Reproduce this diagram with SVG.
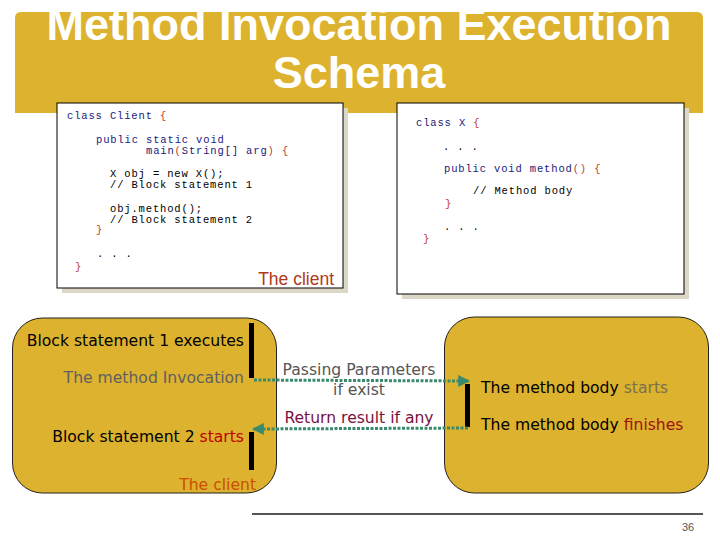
<svg xmlns="http://www.w3.org/2000/svg" width="720" height="540" viewBox="0 0 720 540">
<style>
.code{font-family:"Liberation Mono","Courier New",monospace;font-size:10.5px;letter-spacing:0.85px;fill:#000}
.kw{fill:#1a1a7a}
.br{fill:#c0392b}
.lbl{font-family:"DejaVu Sans",Verdana,sans-serif;font-size:15.6px}
.title{font-family:"Liberation Sans",Arial,sans-serif;font-weight:bold;font-size:45px;fill:#fff}
.node{fill:#DDB22E;stroke:#222;stroke-width:1}
.bar{fill:#000}
.conn{stroke:#3a8a6c;stroke-width:3;stroke-dasharray:3 1.5;fill:none}
</style>
<defs>
<marker id="ah" viewBox="0 0 10 10" refX="9" refY="5" markerWidth="4" markerHeight="4" orient="auto-start-reverse" markerUnits="strokeWidth">
<path d="M0,0 L10,5 L0,10 z" fill="#3a8a6c"/>
</marker>
</defs>
<rect width="720" height="540" fill="#fff"/>
<g id="titleband">
<path d="M21,12 H697 Q703,12 703,18 V113 H15 V18 Q15,12 21,12 z" fill="#DDB22E"/>
<text class="title" x="359" y="40" text-anchor="middle">Method Invocation Execution</text>
<text class="title" x="359" y="88" text-anchor="middle">Schema</text>
</g>
<g id="code-client">
<rect x="62" y="108" width="286" height="185" fill="#ddd8c6"/>
<rect x="57" y="103" width="286" height="185" fill="#fff" stroke="#000" stroke-width="1"/>
<text class="code" x="67" y="119"><tspan class="kw">class Client </tspan><tspan class="br">{</tspan></text>
<text class="code" x="96" y="142.5"><tspan class="kw">public static void</tspan></text>
<text class="code" x="146" y="154"><tspan class="kw">main</tspan><tspan class="br">(</tspan><tspan class="kw">String[] arg</tspan><tspan class="br">)</tspan><tspan> </tspan><tspan class="br">{</tspan></text>
<text class="code" x="110" y="177">X obj = new X();</text>
<text class="code" x="110" y="188">// Block statement 1</text>
<text class="code" x="110" y="211.5">obj.method();</text>
<text class="code" x="110" y="222.5">// Block statement 2</text>
<text class="code br" x="96" y="233">}</text>
<text class="code" x="97" y="257">. . .</text>
<text class="code br" x="75" y="270">}</text>
<text x="334" y="284.5" text-anchor="end" font-family="Liberation Sans,Arial,sans-serif" font-size="17.5" fill="#b03a1a">The client</text>
</g>
<g id="code-x">
<rect x="402" y="108" width="287" height="191" fill="#ddd8c6"/>
<rect x="397" y="103" width="287" height="191" fill="#fff" stroke="#000" stroke-width="1"/>
<text class="code" x="416" y="126"><tspan class="kw">class X </tspan><tspan class="br">{</tspan></text>
<text class="code" x="443" y="150">. . .</text>
<text class="code" x="444" y="171.5"><tspan class="kw">public void method</tspan><tspan class="br">()</tspan><tspan> </tspan><tspan class="br">{</tspan></text>
<text class="code" x="473" y="194">// Method body</text>
<text class="code br" x="445" y="206.5">}</text>
<text class="code" x="444" y="230">. . .</text>
<text class="code br" x="423" y="241.5">}</text>
</g>
<g id="client-node">
<rect class="node" x="12.5" y="318" width="264" height="175" rx="30" ry="30"/>
<rect class="bar" x="249" y="323" width="5" height="55"/>
<rect class="bar" x="249" y="432" width="5" height="38"/>
<text class="lbl" x="244" y="346" text-anchor="end" fill="#000">Block statement 1 executes</text>
<text class="lbl" x="244" y="382.5" text-anchor="end" fill="#606060">The method Invocation</text>
<text class="lbl" x="244" y="441.5" text-anchor="end" fill="#000">Block statement 2 <tspan fill="#c00000">starts</tspan></text>
<text class="lbl" x="256" y="490" text-anchor="end" fill="#c85000">The client</text>
</g>
<g id="x-node">
<rect class="node" x="444.5" y="317" width="264" height="176" rx="30" ry="30"/>
<rect class="bar" x="465" y="384" width="5" height="43"/>
<text class="lbl" x="481" y="393" fill="#000">The method body <tspan fill="#7a7050">starts</tspan></text>
<text class="lbl" x="481" y="430" fill="#000">The method body <tspan fill="#a01010">finishes</tspan></text>
</g>
<g id="connectors">
<line class="conn" x1="254" y1="380" x2="469" y2="381" marker-end="url(#ah)"/>
<line class="conn" x1="468" y1="428" x2="253" y2="429" marker-end="url(#ah)"/>
<text class="lbl" x="359" y="375" text-anchor="middle" fill="#555">Passing Parameters</text>
<text class="lbl" x="359" y="395" text-anchor="middle" fill="#555">if exist</text>
<text class="lbl" x="359" y="422.5" text-anchor="middle" fill="#7a1040">Return result if any</text>
</g>
<g id="footer">
<line x1="252" y1="514" x2="703" y2="514" stroke="#555" stroke-width="2"/>
<text x="688" y="531" text-anchor="middle" font-family="Liberation Sans,Arial,sans-serif" font-size="11" fill="#555">36</text>
</g>
</svg>
